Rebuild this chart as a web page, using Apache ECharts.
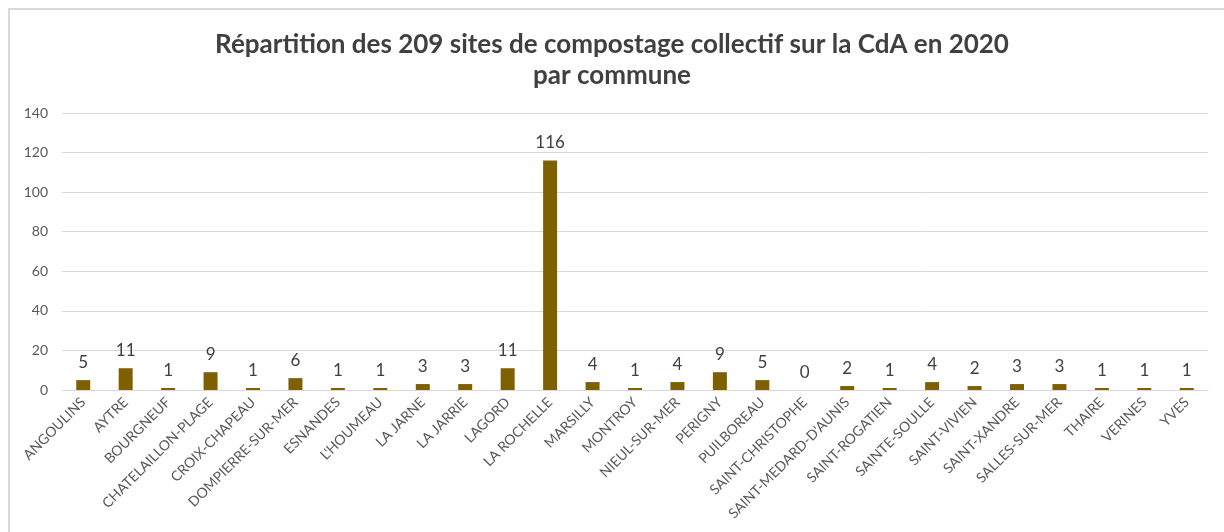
<!DOCTYPE html>
<html>
<head>
<meta charset="utf-8">
<script src="https://cdn.jsdelivr.net/npm/echarts@6/dist/echarts.min.js"></script>
<style>
  html, body { margin: 0; padding: 0; background: #fff; }
  #frame {
    position: absolute; left: 8px; top: 8px;
    width: 1240px; height: 560px;
    border: 2px solid #d9d9d9; box-sizing: border-box;
  }
  #chart { position: absolute; left: 0; top: 0; width: 1224px; height: 532px; }
</style>
</head>
<body>
<div id="frame"></div>
<div id="chart"></div>
<script>
// communes de la CdA
const communes = [
  'ANGOULINS', 'AYTRE', 'BOURGNEUF', 'CHATELAILLON-PLAGE', 'CROIX-CHAPEAU',
  'DOMPIERRE-SUR-MER', 'ESNANDES', "L'HOUMEAU", 'LA JARNE', 'LA JARRIE',
  'LAGORD', 'LA ROCHELLE', 'MARSILLY', 'MONTROY', 'NIEUL-SUR-MER',
  'PERIGNY', 'PUILBOREAU', 'SAINT-CHRISTOPHE', "SAINT-MEDARD-D'AUNIS", 'SAINT-ROGATIEN',
  'SAINTE-SOULLE', 'SAINT-VIVIEN', 'SAINT-XANDRE', 'SALLES-SUR-MER', 'THAIRE',
  'VERINES', 'YVES'
];
// nombre de sites par commune
const nbSites = [
  5, 11, 1, 9, 1,
  6, 1, 1, 3, 3,
  11, 116, 4, 1, 4,
  9, 5, 0, 2, 1,
  4, 2, 3, 3, 1,
  1, 1
];
const yTicks = { min: 0, max: 140, step: 20 };

const myChart = echarts.init(document.getElementById('chart'));

const option = {
  animation: false,
  title: {
    text: 'Répartition des 209 sites de compostage collectif sur la CdA en 2020\npar commune',
    left: 'center',
    top: 24,
    textStyle: {
      fontFamily: 'Lato',
      fontWeight: 'bold',
      fontSize: 26,
      lineHeight: 31,
      color: '#404040'
    }
  },
  grid: {
    left: 62,
    right: 16,
    top: 113,
    bottom: 142
  },
  xAxis: {
    type: 'category',
    data: communes,
    axisTick: { show: false },
    axisLine: { lineStyle: { color: '#d9d9d9', width: 1 } },
    axisLabel: {
      rotate: 45,
      interval: 0,
      margin: 10,
      fontFamily: 'Lato',
      fontSize: 14,
      color: '#595959'
    }
  },
  yAxis: {
    type: 'value',
    min: yTicks.min,
    max: yTicks.max,
    interval: yTicks.step,
    axisLine: { show: false },
    axisTick: { show: false },
    splitLine: { lineStyle: { color: '#d9d9d9', width: 1 } },
    axisLabel: {
      margin: 14,
      fontFamily: 'Lato',
      fontSize: 14,
      color: '#595959'
    }
  },
  series: [{
    type: 'bar',
    data: nbSites,
    barWidth: 14,
    itemStyle: { color: '#7f6000' },
    label: {
      show: true,
      position: 'top',
      distance: 9,
      fontFamily: 'Lato',
      fontSize: 17,
      color: '#404040'
    }
  }]
};

myChart.setOption(option);

window.addEventListener('resize', () => {
  myChart.resize();
});
</script>
</body>
</html>
